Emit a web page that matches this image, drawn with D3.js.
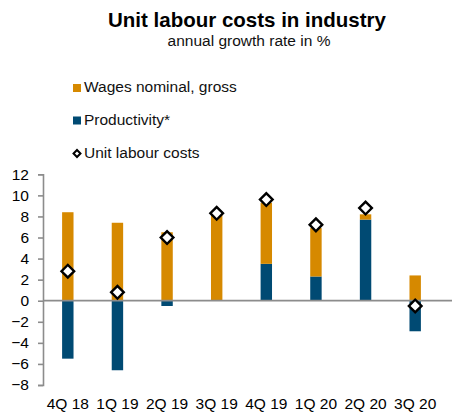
<!DOCTYPE html>
<html>
<head>
<meta charset="utf-8">
<script src="https://cdn.jsdelivr.net/npm/d3@7"></script>
<style>
  html, body { margin: 0; padding: 0; background: #fff; }
  svg { display: block; font-family: "Liberation Sans", Arial, sans-serif; }
</style>
</head>
<body>
<svg id="chart" width="454" height="415"></svg>
<script>
// Quarterly annual growth rates, in %
const quarters = ["4Q 18", "1Q 19", "2Q 19", "3Q 19", "4Q 19", "1Q 20", "2Q 20", "3Q 20"];
const wages = [8.4, 7.4, 6.5, 8.2, 5.8, 4.6, 0.5, 2.4];
const productivity = [-5.5, -6.6, -0.5, 0.0, 3.5, 2.3, 7.7, -2.9];
const unitLabourCosts = [2.8, 0.8, 6.0, 8.3, 9.6, 7.2, 8.8, -0.5];
const yTicks = [-8, -6, -4, -2, 0, 2, 4, 6, 8, 10, 12];

const seriesNames = { wages: "Wages nominal, gross", productivity: "Productivity*", ulc: "Unit labour costs" };
const colors = { wages: "#D68900", productivity: "#004A73" };
const axisGrey = "#8c8c8c";

const svg = d3.select("#chart");

// Titles
svg.append("text")
  .attr("x", 247).attr("y", 27)
  .attr("text-anchor", "middle")
  .attr("font-size", "20.5px").attr("font-weight", "bold").attr("fill", "#000")
  .text("Unit labour costs in industry");
svg.append("text")
  .attr("x", 249).attr("y", 46)
  .attr("text-anchor", "middle")
  .attr("font-size", "15.5px").attr("fill", "#111")
  .text("annual growth rate in %");

// Scales
const x = d3.scaleBand()
  .domain(quarters)
  .range([43, 440])
  .paddingInner(0.77)
  .paddingOuter(0.385);
const y = d3.scaleLinear().domain([-8, 12]).range([385, 174.3]);

// Stacked rows: productivity sits on the baseline, wages stack on top of it
const rows = quarters.map((q, i) => ({ quarter: q, productivity: productivity[i], wages: wages[i] }));
const stacked = d3.stack()
  .keys(["productivity", "wages"])
  .offset(d3.stackOffsetDiverging)(rows);

// Y axis
const yAxis = svg.append("g")
  .attr("transform", "translate(43,0)")
  .call(d3.axisLeft(y).tickValues(yTicks).tickSize(5).tickPadding(9).tickFormat(d3.format("d")));
yAxis.select(".domain").attr("stroke", axisGrey).attr("stroke-width", 1.6);
yAxis.selectAll(".tick line").attr("stroke", axisGrey).attr("stroke-width", 1.6);
yAxis.selectAll(".tick text")
  .attr("font-size", "15.5px").attr("fill", "#000")
  .attr("font-family", "Liberation Sans, Arial, sans-serif");

// Bars
svg.append("g").selectAll("g")
  .data(stacked)
  .join("g")
  .attr("fill", d => colors[d.key])
  .selectAll("rect")
  .data(d => d)
  .join("rect")
  .attr("x", d => x(d.data.quarter))
  .attr("width", x.bandwidth())
  .attr("y", d => y(Math.max(d[0], d[1])))
  .attr("height", d => Math.abs(y(d[0]) - y(d[1])));

// Zero line
svg.append("line")
  .attr("x1", 43).attr("x2", 452)
  .attr("y1", y(0)).attr("y2", y(0))
  .attr("stroke", axisGrey).attr("stroke-width", 1.8);

// Unit labour cost markers
const diamond = d3.symbol().type(d3.symbolSquare).size(80);
svg.append("g").selectAll("path")
  .data(unitLabourCosts)
  .join("path")
  .attr("d", diamond)
  .attr("transform", (d, i) => `translate(${x(quarters[i]) + x.bandwidth() / 2},${y(d)}) rotate(45)`)
  .attr("fill", "#fff").attr("stroke", "#000").attr("stroke-width", 2.4);

// X labels
svg.append("g").selectAll("text")
  .data(quarters)
  .join("text")
  .attr("x", d => x(d) + x.bandwidth() / 2)
  .attr("y", 409)
  .attr("text-anchor", "middle")
  .attr("font-size", "15.5px").attr("fill", "#000")
  .text(d => d);

// Legend
const legend = svg.append("g");
const legendRows = [
  { key: "wages", y: 92 },
  { key: "productivity", y: 124.5 },
  { key: "ulc", y: 157.5 }
];
legendRows.forEach(r => {
  if (r.key === "ulc") {
    legend.append("path")
      .attr("d", d3.symbol().type(d3.symbolSquare).size(24)())
      .attr("transform", `translate(77,${r.y - 4}) rotate(45)`)
      .attr("fill", "#fff").attr("stroke", "#000").attr("stroke-width", 2);
  } else {
    legend.append("rect")
      .attr("x", 73).attr("y", r.y - 8)
      .attr("width", 8).attr("height", 8)
      .attr("fill", colors[r.key]);
  }
  legend.append("text")
    .attr("x", 84).attr("y", r.y)
    .attr("font-size", "15.5px").attr("fill", "#111")
    .text(seriesNames[r.key]);
});
</script>
</body>
</html>
